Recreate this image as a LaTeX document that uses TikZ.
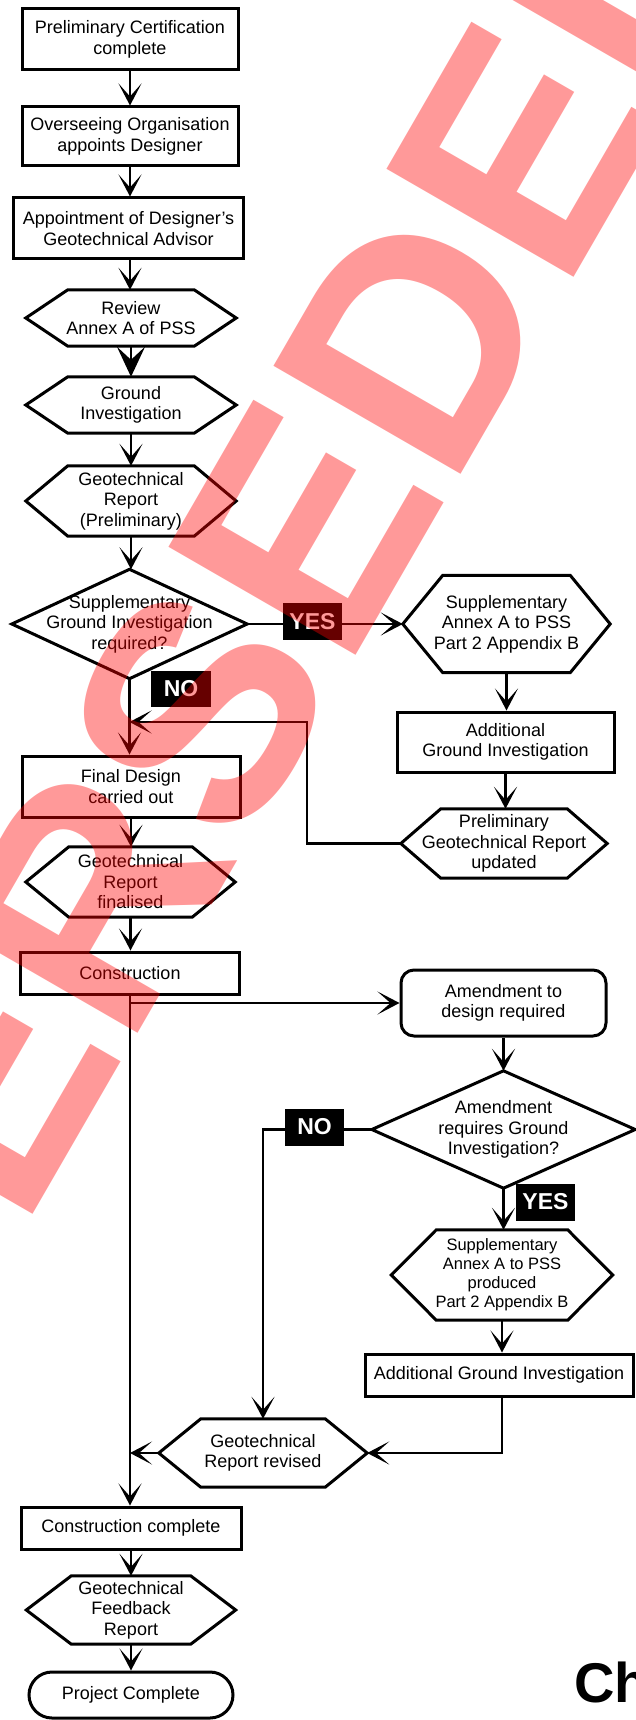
\documentclass[tikz,border=0pt]{standalone}
\usepackage{fontspec}
\setmainfont{Liberation Sans}
\usetikzlibrary{arrows.meta}

% outline of a hexagon around a (frameless) node: #1 node name, #2 corner inset
\newcommand\hexoutline[2]{%
  \draw[outline] (#1.west) -- ([xshift=#2]#1.north west) -- ([xshift=-#2]#1.north east)
    -- (#1.east) -- ([xshift=-#2]#1.south east) -- ([xshift=#2]#1.south west) -- cycle;}
% outline of a decision diamond through the four side anchors of a node
\newcommand\decisionoutline[1]{%
  \draw[outline] (#1.north) -- (#1.east) -- (#1.south) -- (#1.west) -- cycle;}

\begin{document}
\begin{tikzpicture}[x=1pt,y=-1pt,
  outline/.style={line width=3pt, line join=miter},
  textonly/.style={inner sep=0pt, align=center, font=\fontsize{18}{20.5}\selectfont},
  procbox/.style={textonly, draw, outline},
  conn/.style={line width=2.9pt, -{Stealth[length=22pt,width=23pt,inset=13pt]}},
  bigconn/.style={line width=2.9pt, -{Stealth[length=30pt,width=28pt,inset=13pt]}},
  answer/.style={fill=black, text=white, inner sep=0pt,
    font=\fontsize{23}{23}\selectfont\bfseries, minimum width=59pt, minimum height=37pt},
  stamp/.style={inner sep=0pt, text=red, text opacity=0.4,
    font=\fontsize{314}{314}\selectfont\bfseries}
]
\useasboundingbox (0,0) rectangle (635,1720);
\fill[white] (0,0) rectangle (635,1720);

% ---- main column ----
\node[procbox, minimum width=216pt, minimum height=61pt] (n1) at (130,39.5)
  {Preliminary Certification\\complete};
\node[procbox, minimum width=216pt, minimum height=59pt] (n2) at (130,136.5)
  {Overseeing Organisation\\appoints Designer};
\node[procbox, minimum width=230pt, minimum height=61pt] (n3) at (128.5,228.5)
  {Appointment of Designer's\\Geotechnical Advisor};
\node[textonly, minimum width=210pt, minimum height=56pt] (h1) at (131,318)
  {Review\\Annex A of PSS};
\node[textonly, minimum width=210pt, minimum height=56pt] (h2) at (131,405)
  {Ground\\Investigation};
\node[textonly, minimum width=210pt, minimum height=70pt] (h3) at (131,501)
  {Geotechnical\\Report\\(Preliminary)};
\node[textonly, minimum width=235pt, minimum height=109pt] (d1) at (129.5,624)
  {Supplementary\\Ground Investigation\\required?};
\node[procbox, minimum width=218pt, minimum height=61pt] (n4) at (131,786.5)
  {Final Design\\carried out};
\node[textonly, minimum width=209pt, minimum height=70pt] (h4) at (130.5,882)
  {Geotechnical\\Report\\finalised};
\node[procbox, minimum width=219pt, minimum height=42pt] (n5) at (130,973)
  {Construction};
\node[procbox, minimum width=220pt, minimum height=42pt] (n6) at (131,1528)
  {Construction complete};
\node[textonly, minimum width=209pt, minimum height=68pt] (h7) at (131,1610)
  {Geotechnical\\Feedback\\Report};
\node[procbox, rounded corners=23pt, minimum width=204pt, minimum height=46pt] (p1) at (131,1695)
  {Project Complete};

% ---- supplementary investigation branch ----
\node[textonly, minimum width=207pt, minimum height=97pt] (r1) at (506.5,624)
  {Supplementary\\Annex A to PSS\\Part 2 Appendix B};
\node[procbox, minimum width=217pt, minimum height=60pt] (r2) at (505.5,742)
  {Additional\\Ground Investigation};
\node[textonly, minimum width=206pt, minimum height=69pt] (r3) at (504,843.5)
  {Preliminary\\Geotechnical Report\\updated};

% ---- amendment branch ----
\node[procbox, rounded corners=13pt, minimum width=205pt, minimum height=66pt] (a1) at (503.5,1003)
  {Amendment to\\design required};
\node[textonly, minimum width=263pt, minimum height=117pt] (d2) at (503.5,1129.5)
  {Amendment\\requires Ground\\Investigation?};
\node[textonly, font=\fontsize{16.5}{19}\selectfont, minimum width=221pt, minimum height=90pt] (h5) at (502,1275)
  {Supplementary\\Annex A to PSS\\produced\\Part 2 Appendix B};
\node[procbox, minimum width=268pt, minimum height=42pt] (r4) at (499,1375)
  {Additional Ground Investigation};
\node[textonly, minimum width=208pt, minimum height=68pt] (h6) at (263,1453)
  {Geotechnical\\Report revised};

% ---- outlines of hexagons and diamonds ----
\hexoutline{h1}{42pt}
\hexoutline{h2}{42pt}
\hexoutline{h3}{42pt}
\hexoutline{h4}{43pt}
\hexoutline{h7}{45pt}
\hexoutline{r1}{40pt}
\hexoutline{r3}{40pt}
\hexoutline{h5}{45pt}
\hexoutline{h6}{42pt}
\decisionoutline{d1}
\decisionoutline{d2}

% ---- connectors ----
\draw[conn] (n1.south) -- (n1.south |- n2.north);
\draw[conn] (n2.south) -- (n2.south |- n3.north);
\draw[conn] (n2.south |- n3.south) -- (n2.south |- h1.north);
\draw[bigconn] (h1.south) -- (h2.north);
\draw[conn] (h2.south) -- (h2.south |- h3.north);
\draw[conn] (h3.south) -- (h3.south |- d1.north);
\draw[conn] (d1.south) -- (d1.south |- n4.north);
\draw[conn] (d1.east) -- (r1.west);
\draw[conn] (r1.south) -- (r1.south |- r2.north);
\draw[conn] (r2.south) -- (r2.south |- r3.north);
\coordinate (loopturn) at (307,722);
\draw[conn] (r3.west) -| (loopturn) -- (loopturn -| d1.south);
\draw[conn] (n4.south) -- (n4.south |- h4.north);
\draw[conn] (h4.south) -- (h4.south |- n5.north);
\draw[conn] (n5.south) -- (n5.south |- n6.north);
\draw[conn] (n5.south |- a1.west) -- (a1.west);
\draw[conn] (a1.south) -- (a1.south |- d2.north);
\draw[conn] (d2.west) -| (h6.north);
\draw[conn] (d2.south) -- (d2.south |- h5.north);
\draw[conn] (h5.south) -- (h5.south |- r4.north);
\draw[conn] (h5.south |- r4.south) |- (h6.east);
\draw[conn] (h6.west) -- (h6.west -| n5.south);
\draw[conn] (n6.south) -- (n6.south |- h7.north);
\draw[conn] (h7.south) -- (h7.south |- p1.north);

% ---- decision answers ----
\node[answer] (yes1) at (312.5,621.5) {YES};
\node[answer, minimum width=60pt, minimum height=36pt] (no1) at (181,689) {NO};
\node[answer] (no2) at (314.5,1127) {NO};
\node[answer] (yes2) at (545.5,1202) {YES};

% ---- chart title (runs off the page) and status stamp ----
\begin{scope}
  \clip (0,0) rectangle (635,1720);
  \node[anchor=base west, inner sep=0pt, font=\fontsize{56}{56}\selectfont\bfseries] (title) at (574,1702) {Ch};
  \node[stamp, rotate=60, anchor=base west] (stampword) at (-300,1792) {SUPERSEDED};
\end{scope}
\end{tikzpicture}
\end{document}
